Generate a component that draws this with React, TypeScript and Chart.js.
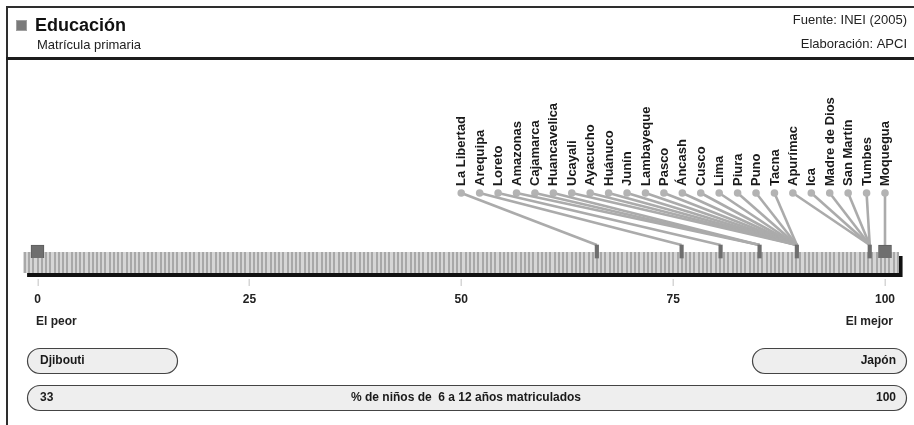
import React, { useEffect, useRef } from "react";
import { Chart, registerables } from "chart.js";
Chart.register(...registerables);

const title = "Educación";
const subtitle = "Matrícula primaria";
const sourceText = "Fuente: INEI (2005)";
const creditText = "Elaboración: APCI";

const regions = [
  "La Libertad", "Arequipa", "Loreto", "Amazonas", "Cajamarca", "Huancavelica",
  "Ucayali", "Ayacucho", "Huánuco", "Junín", "Lambayeque", "Pasco", "Áncash",
  "Cusco", "Lima", "Piura", "Puno", "Tacna", "Apurímac", "Ica", "Madre de Dios",
  "San Martín", "Tumbes", "Moquegua",
];
// normalized score (0 = worst country, 100 = best country)
const regionScores = [
  66, 76, 80.6, 85.2, 85.2, 85.2,
  89.6, 89.6, 89.6, 89.6, 89.6, 89.6, 89.6,
  89.6, 89.6, 89.6, 89.6, 89.6, 98.2, 98.2, 98.2,
  98.2, 98.2, 100,
];
const axisTicks = [0, 25, 50, 75, 100];
const extremes = [0, 100];
const worstLabel = "El peor";
const bestLabel = "El mejor";
const worstCountry = "Djibouti";
const bestCountry = "Japón";
const worstValue = "33";
const bestValue = "100";
const indicatorLabel = "% de niños de  6 a 12 años matriculados";
const labelRange = [50, 100];

const FONT = "'Liberation Sans', Arial, Helvetica, sans-serif";

function pill(ctx: CanvasRenderingContext2D, x: number, y: number, w: number, h: number) {
  const r = h / 2;
  ctx.beginPath();
  ctx.moveTo(x + r, y);
  ctx.lineTo(x + w - r, y);
  ctx.arc(x + w - r, y + r, r, -Math.PI / 2, Math.PI / 2);
  ctx.lineTo(x + r, y + h);
  ctx.arc(x + r, y + r, r, Math.PI / 2, (3 * Math.PI) / 2);
  ctx.closePath();
  ctx.fillStyle = "#eeeeee";
  ctx.fill();
  ctx.strokeStyle = "#444444";
  ctx.lineWidth = 1.2;
  ctx.stroke();
}

const decorPlugin = {
  id: "decor",
  beforeDraw(chart: any) {
    const ctx: CanvasRenderingContext2D = chart.ctx;
    const W = chart.width;
    const H = chart.height;
    ctx.save();
    ctx.fillStyle = "#ffffff";
    ctx.fillRect(0, 0, W, H);
    // frame
    ctx.fillStyle = "#2e2e2e";
    ctx.fillRect(6, 6, W - 6, 2);
    ctx.fillRect(6, 6, 2, H - 6);
    ctx.fillStyle = "#1c1c1c";
    ctx.fillRect(6, 57, W - 6, 3);
    // header icon
    ctx.fillStyle = "#7a7a7a";
    ctx.fillRect(16, 20, 11, 11);
    ctx.strokeStyle = "#a0a0a0";
    ctx.lineWidth = 1;
    ctx.strokeRect(16.5, 20.5, 10, 10);
    // header texts
    ctx.fillStyle = "#111";
    ctx.textBaseline = "middle";
    ctx.textAlign = "left";
    ctx.font = `bold 18px ${FONT}`;
    ctx.fillText(title, 35, 26);
    ctx.font = `13px ${FONT}`;
    ctx.fillStyle = "#222";
    ctx.fillText(subtitle, 37, 45);
    ctx.textAlign = "right";
    ctx.fillText(sourceText, 907, 20);
    ctx.fillText(creditText, 907, 44);
    ctx.restore();
  },
  beforeDatasetsDraw(chart: any) {
    const ctx: CanvasRenderingContext2D = chart.ctx;
    const xs = chart.scales.x;
    const left = xs.getPixelForValue(-1.7);
    const right = xs.getPixelForValue(101.6);
    ctx.save();
    // shadow
    ctx.fillStyle = "#111111";
    ctx.fillRect(left + 4, 256, right - left, 21);
    // striped bar
    ctx.fillStyle = "#d6d6d6";
    ctx.fillRect(left, 252, right - left, 21);
    ctx.fillStyle = "#a8a8a8";
    for (let v = -1.6; xs.getPixelForValue(v) < right - 1; v += 0.5) {
      const px = Math.round(xs.getPixelForValue(v));
      ctx.fillRect(px, 252, 2, 21);
    }
    // tick marks + labels
    ctx.fillStyle = "#d6d6d6";
    axisTicks.forEach((t) => {
      const px = Math.round(xs.getPixelForValue(t));
      ctx.fillRect(px - 0.5, 279, 1.5, 7);
    });
    ctx.fillStyle = "#222";
    ctx.font = `bold 12px ${FONT}`;
    ctx.textBaseline = "middle";
    ctx.textAlign = "center";
    axisTicks.forEach((t) => {
      ctx.fillText(String(t), xs.getPixelForValue(t), 300);
    });
    ctx.textAlign = "left";
    ctx.fillText(worstLabel, 36, 322);
    ctx.textAlign = "right";
    ctx.fillText(bestLabel, 893, 322);
    // region labels (vertical)
    ctx.font = `bold 13px ${FONT}`;
    ctx.fillStyle = "#1a1a1a";
    ctx.textAlign = "left";
    ctx.textBaseline = "middle";
    regions.forEach((name, i) => {
      const v = labelRange[0] + (i * (labelRange[1] - labelRange[0])) / (regions.length - 1);
      const px = xs.getPixelForValue(v);
      ctx.save();
      ctx.translate(px + 0.5, 186);
      ctx.rotate(-Math.PI / 2);
      ctx.fillText(name, 0, 0);
      ctx.restore();
    });
    // pills
    pill(ctx, 27.5, 348.5, 150, 25);
    pill(ctx, 752.5, 348.5, 154, 25);
    pill(ctx, 27.5, 385.5, 879, 25);
    ctx.fillStyle = "#1a1a1a";
    ctx.font = `bold 12px ${FONT}`;
    ctx.textBaseline = "middle";
    ctx.textAlign = "left";
    ctx.fillText(worstCountry, 40, 361);
    ctx.fillText(worstValue, 40, 398);
    ctx.textAlign = "right";
    ctx.fillText(bestCountry, 896, 361);
    ctx.fillText(bestValue, 896, 398);
    ctx.textAlign = "center";
    ctx.fillText(indicatorLabel, 466, 398);
    ctx.restore();
  },
};

export default function App() {
  const ref = useRef<HTMLCanvasElement | null>(null);
  useEffect(() => {
    if (!ref.current) return;
    const markerValues = Array.from(new Set(regionScores.filter((v) => v < 100)));
    const lineSets = regions.map((name, i) => {
      const v = labelRange[0] + (i * (labelRange[1] - labelRange[0])) / (regions.length - 1);
      return {
        type: "line" as const,
        label: name,
        data: [
          { x: v, y: 1 },
          { x: regionScores[i], y: 0.2 },
        ],
        borderColor: "#ababab",
        borderWidth: 2.6,
        pointRadius: [3.8, 0],
        pointBackgroundColor: "#b3b3b3",
        pointBorderWidth: 0,
        pointHoverRadius: 0,
        clip: false as any,
        order: 2,
      };
    });
    const chart = new Chart(ref.current, {
      type: "bar",
      data: {
        datasets: [
          {
            type: "bar",
            label: "extremos",
            data: extremes.map((v) => ({ x: v, y: [0, 0.2] })) as any,
            backgroundColor: "#6f6f6f",
            borderColor: "#5c5c5c",
            borderWidth: 1,
            barThickness: 13,
            grouped: false,
            clip: false as any,
            order: 0,
          },
          {
            type: "bar",
            label: "regiones",
            data: markerValues.map((v) => ({ x: v, y: [0, 0.2] })) as any,
            backgroundColor: "#6e6e6e",
            borderWidth: 0,
            barThickness: 3.5,
            grouped: false,
            clip: false as any,
            order: 1,
          },
          ...lineSets,
        ] as any,
      },
      options: {
        animation: false,
        responsive: false,
        devicePixelRatio: 1,
        events: [],
        layout: { padding: { left: 37.5, right: 29, top: 193, bottom: 167 } },
        plugins: { legend: { display: false }, tooltip: { enabled: false } },
        scales: {
          x: { type: "linear", min: 0, max: 100, display: false, offset: false },
          y: { type: "linear", min: 0, max: 1, display: false },
        },
      },
      plugins: [decorPlugin],
    });
    return () => chart.destroy();
  }, []);
  return (
    <div style={{ position: "fixed", left: 0, top: 0, width: 914, height: 425, background: "#fff" }}>
      <canvas ref={ref} width={914} height={425} style={{ width: 914, height: 425, display: "block" }} />
    </div>
  );
}
